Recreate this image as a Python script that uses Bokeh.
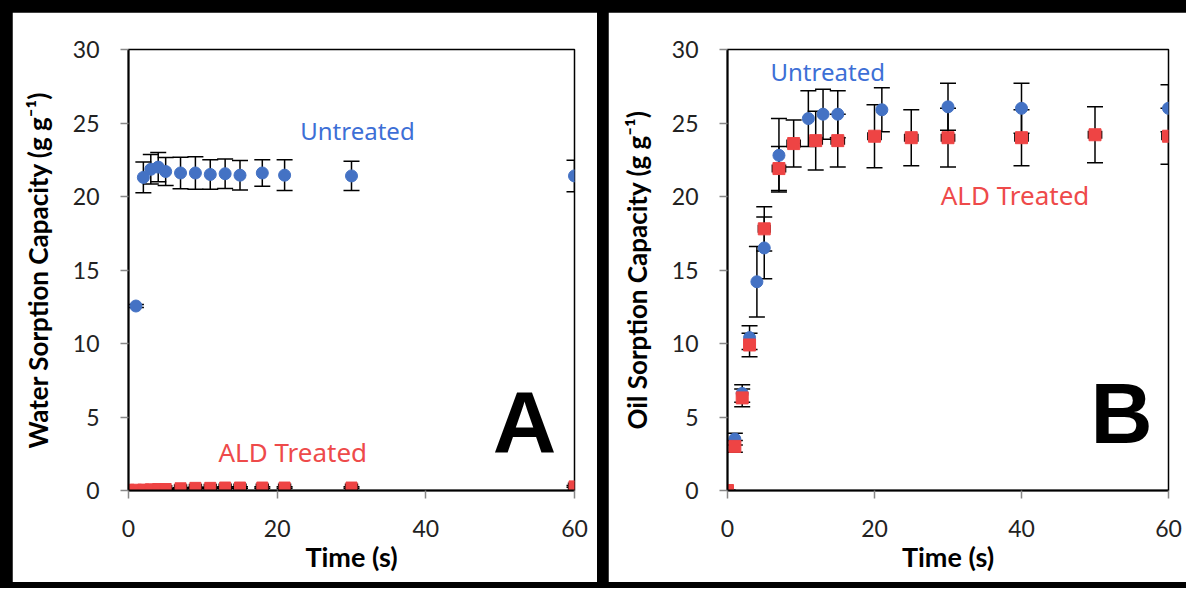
from bokeh.plotting import figure
from bokeh.models import ColumnDataSource, Whisker, TeeHead, Label, FixedTicker, Range1d, Spacer
from bokeh.layouts import row, column
from bokeh.embed import file_html
from bokeh.resources import INLINE

# ---------------- data ----------------
x_ticks = [0, 20, 40, 60]
y_ticks = [0, 5, 10, 15, 20, 25, 30]

# Panel A: water sorption
a_untreated_t = [0, 1, 2, 3, 4, 5, 7, 9, 11, 13, 15, 18, 21, 30, 60]
a_untreated_y = [0, 12.55, 21.3, 21.85, 22.0, 21.7, 21.6, 21.6, 21.5, 21.55, 21.45, 21.6, 21.45, 21.4, 21.4]
a_untreated_e = [0, 0.1, 1.05, 1.0, 1.0, 0.95, 1.07, 1.1, 1.0, 1.0, 1.0, 0.9, 1.05, 1.0, 1.07]
a_ald_t = [0, 1, 2, 3, 4, 5, 7, 9, 11, 13, 15, 18, 21, 30, 60]
a_ald_y = [0.05, 0.05, 0.06, 0.08, 0.1, 0.1, 0.15, 0.18, 0.18, 0.2, 0.2, 0.2, 0.2, 0.2, 0.28]
a_ald_e = [0.02, 0.02, 0.02, 0.03, 0.03, 0.03, 0.04, 0.04, 0.04, 0.05, 0.05, 0.05, 0.05, 0.05, 0.06]
a_ald_xe = [0.8] * 15

# Panel B: oil sorption
b_untreated_t = [0, 1, 2, 3, 4, 5, 7, 11, 13, 15, 21, 30, 40, 60]
b_untreated_y = [0, 3.5, 6.6, 10.4, 14.2, 16.5, 22.8, 25.3, 25.6, 25.6, 25.9, 26.1, 26.0, 26.0]
b_untreated_e = [0, 0.4, 0.6, 0.8, 2.4, 2.1, 2.5, 1.9, 1.7, 1.6, 1.5, 1.6, 1.7, 1.6]
b_ald_t = [0, 1, 2, 3, 5, 7, 9, 12, 15, 20, 25, 30, 40, 50, 60]
b_ald_y = [0, 3.0, 6.3, 9.9, 17.8, 21.9, 23.6, 23.8, 23.8, 24.1, 24.0, 24.0, 24.0, 24.2, 24.1]
b_ald_e = [0, 0.4, 0.6, 0.8, 1.5, 1.5, 1.6, 2.0, 1.8, 2.15, 1.9, 2.0, 1.9, 1.9, 1.9]
b_ald_xe = [0.5, 0.5, 0.5, 0.5, 0.8, 0.9, 0.9, 0.9, 0.9, 0.9, 0.9, 0.9, 0.9, 0.9, 0.9]

BLUE = "#4472C4"
RED = "#EE4444"
TEXT_BLUE = "#3D6FD6"
TEXT_RED = "#EE4A4A"


def make_fig(width, ml, mr, mt, mb, ylabel):
    p = figure(width=width, height=570, output_backend="svg", toolbar_location=None,
               title=None,
               x_range=Range1d(0, 60), y_range=Range1d(0, 30),
               min_border_left=ml, min_border_right=mr, min_border_top=mt, min_border_bottom=mb)
    p.grid.visible = False
    p.outline_line_color = "black"
    p.outline_line_width = 1.5
    p.background_fill_color = "white"
    p.border_fill_color = "white"
    p.xaxis.ticker = FixedTicker(ticks=x_ticks)
    p.yaxis.ticker = FixedTicker(ticks=y_ticks)
    for ax in (p.xaxis[0], p.yaxis[0]):
        ax.axis_line_color = "black"
        ax.axis_line_width = 2
        ax.major_tick_line_color = "#888888"
        ax.major_tick_line_width = 1.5
        ax.major_tick_out = 8
        ax.major_tick_in = 0
        ax.minor_tick_line_color = None
        ax.major_label_text_font = "Lato"
        ax.major_label_text_font_size = "23px"
        ax.major_label_text_color = "#222222"
        ax.major_label_standoff = 21
        ax.axis_label_text_font = "Lato"
        ax.axis_label_text_font_style = "bold"
        ax.axis_label_text_font_size = "26px"
        ax.axis_label_text_color = "black"
    p.xaxis.axis_label = "Time (s)"
    p.xaxis.axis_label_standoff = 0
    p.xaxis.axis_label_text_font_size = "27px"
    p.yaxis.axis_label = ylabel
    p.yaxis.axis_label_standoff = 16
    return p


def add_series(p, t, y, e, color, marker, size, xe=None):
    src = ColumnDataSource(dict(t=t, y=y,
                                up=[a + b for a, b in zip(y, e)],
                                lo=[a - b for a, b in zip(y, e)]))
    w = Whisker(base="t", upper="up", lower="lo", source=src, dimension="height",
                line_color="black", line_width=1.5, level="underlay",
                upper_head=TeeHead(size=16, line_color="black", line_width=1.5),
                lower_head=TeeHead(size=16, line_color="black", line_width=1.5))
    p.add_layout(w)
    if xe is not None:
        src2 = ColumnDataSource(dict(t=t, y=y,
                                     r=[a + b for a, b in zip(t, xe)],
                                     l=[a - b for a, b in zip(t, xe)]))
        w2 = Whisker(base="y", upper="r", lower="l", source=src2, dimension="width",
                     line_color="black", line_width=1.5, level="underlay",
                     upper_head=TeeHead(size=8, line_color="black", line_width=1.5),
                     lower_head=TeeHead(size=8, line_color="black", line_width=1.5))
        p.add_layout(w2)
    p.scatter(x="t", y="y", source=src, marker=marker, size=size,
              fill_color=color, line_color=color)


# ---------------- Panel A ----------------
pa = make_fig(585, 116, 23, 33, 92, "Water Sorption Capacity (g g\u207b\u00b9)")
add_series(pa, a_untreated_t, a_untreated_y, a_untreated_e, BLUE, "circle", 12)
add_series(pa, a_ald_t, a_ald_y, a_ald_e, RED, "square", 11, xe=a_ald_xe)
pa.add_layout(Label(x=23.1, y=24.5, text="Untreated", text_font="Noto Sans",
                    text_font_size="24px", text_color=TEXT_BLUE, text_baseline="middle"))
pa.add_layout(Label(x=12.1, y=2.6, text="ALD Treated", text_font="Noto Sans",
                    text_font_size="26px", text_color=TEXT_RED, text_baseline="middle"))
pa.add_layout(Label(x=49.0, y=4.7, text="A", text_font="Liberation Sans",
                    text_font_style="bold", text_font_size="88px", text_color="black",
                    text_baseline="middle"))

# ---------------- Panel B ----------------
pb = make_fig(578, 119, 18, 37, 92, "Oil Sorption Capacity (g g\u207b\u00b9)")
add_series(pb, b_untreated_t, b_untreated_y, b_untreated_e, BLUE, "circle", 12)
add_series(pb, b_ald_t, b_ald_y, b_ald_e, RED, "square", 12, xe=b_ald_xe)
pb.add_layout(Label(x=5.85, y=28.5, text="Untreated", text_font="Noto Sans",
                    text_font_size="24px", text_color=TEXT_BLUE, text_baseline="middle"))
pb.add_layout(Label(x=29.0, y=20.1, text="ALD Treated", text_font="Noto Sans",
                    text_font_size="26px", text_color=TEXT_RED, text_baseline="middle"))
pb.add_layout(Label(x=49.4, y=5.3, text="B", text_font="Liberation Sans",
                    text_font_style="bold", text_font_size="86px", text_color="black",
                    text_baseline="middle"))

inner = row(Spacer(width=12, height=570), pa, Spacer(width=11, height=570), pb)
layout = column(Spacer(width=1186, height=12), inner, Spacer(width=1186, height=6),
                styles={"background-color": "black"})

open("out.html", "w").write(file_html(layout, INLINE))
